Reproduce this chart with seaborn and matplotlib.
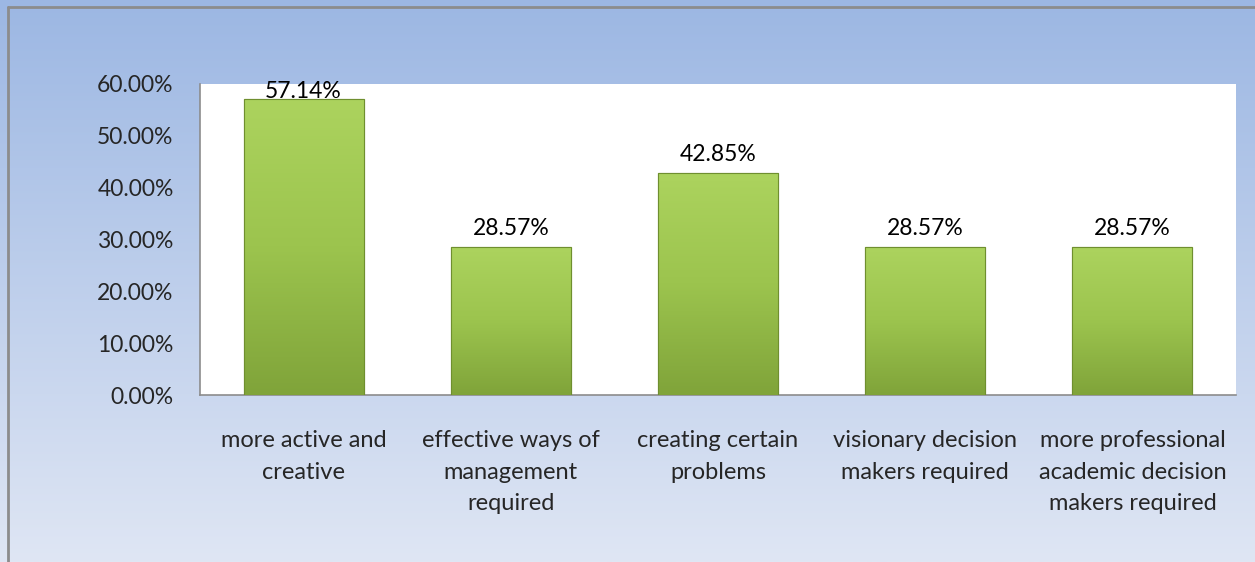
import numpy as np
import matplotlib
matplotlib.use("Agg")
import matplotlib.pyplot as plt
import matplotlib.colors as mcolors
from matplotlib.lines import Line2D
import seaborn as sns

# chart data
categories = [
    "more active and\ncreative",
    "effective ways of\nmanagement\nrequired",
    "creating certain\nproblems",
    "visionary decision\nmakers required",
    "more professional\nacademic decision\nmakers required",
]
values = [0.5714, 0.2857, 0.4285, 0.2857, 0.2857]
value_labels = ["57.14%", "28.57%", "42.85%", "28.57%", "28.57%"]
y_ticks = [0.0, 0.1, 0.2, 0.3, 0.4, 0.5, 0.6]

sns.set_style("white")
plt.rcParams["font.family"] = ["Lato", "DejaVu Sans"]

fig = plt.figure(figsize=(12.55, 5.62), dpi=100)

# gradient background for the chart area
bg = fig.add_axes([0, 0, 1, 1], zorder=-5)
bg_cmap = mcolors.LinearSegmentedColormap.from_list("bg", ["#9cb7e3", "#dfe6f4"])
bg.imshow(np.linspace(0, 1, 256).reshape(-1, 1), aspect="auto", cmap=bg_cmap,
          extent=[0, 1, 0, 1], origin="upper")
bg.set_xlim(0, 1)
bg.set_ylim(0, 1)
bg.axis("off")
# outer border (left and top only visible)
bx = 8 / 1255
by = 1 - 7 / 562
bg.add_line(Line2D([bx, bx], [0, by], color="#8c8c8c", lw=2))
bg.add_line(Line2D([bx, 1], [by, by], color="#8c8c8c", lw=2))

ax = fig.add_axes([200 / 1255, 167 / 562, 1036 / 1255, 311 / 562])
ax.set_facecolor("white")

sns.barplot(x=list(range(len(values))), y=values, color="#9bc44c", width=0.58,
            edgecolor="#6f8f2f", linewidth=0.8, ax=ax, zorder=3)

# vertical green gradient inside each bar
bar_cmap = mcolors.LinearSegmentedColormap.from_list("bar", ["#80a43a", "#9cc44e", "#acd35e"])
for patch in ax.patches:
    x0, y0 = patch.get_x(), patch.get_y()
    w, h = patch.get_width(), patch.get_height()
    im = ax.imshow(np.linspace(0, 1, 100).reshape(-1, 1), aspect="auto", cmap=bar_cmap,
                   extent=[x0, x0 + w, y0, y0 + h], origin="lower", zorder=3.5)
    im.set_clip_path(patch)
    frame = plt.Rectangle((x0, y0), w, h, fill=False, edgecolor="#6f8f2f", lw=0.8, zorder=4)
    ax.add_patch(frame)

# value labels above bars
for i, (v, lab) in enumerate(zip(values, value_labels)):
    ax.text(i, min(v + 0.035, 0.585), lab, ha="center", va="center",
            fontsize=16.5, color="black", zorder=2)

ax.set_xlim(-0.5, len(values) - 0.5)
ax.set_ylim(0, 0.6)
ax.set_yticks(y_ticks)
ax.set_yticklabels([f"{t * 100:.2f}%" for t in y_ticks], fontsize=16.5)
ax.set_xticks(range(len(categories)))
ax.set_xticklabels(categories, fontsize=17, linespacing=1.64)
ax.tick_params(axis="y", length=0, pad=19)
ax.tick_params(axis="x", length=0, pad=25)
for side in ["top", "right"]:
    ax.spines[side].set_visible(False)
for side in ["left", "bottom"]:
    ax.spines[side].set_color("#8c8c8c")
    ax.spines[side].set_linewidth(1.2)

fig.savefig("out.png", dpi=100)
